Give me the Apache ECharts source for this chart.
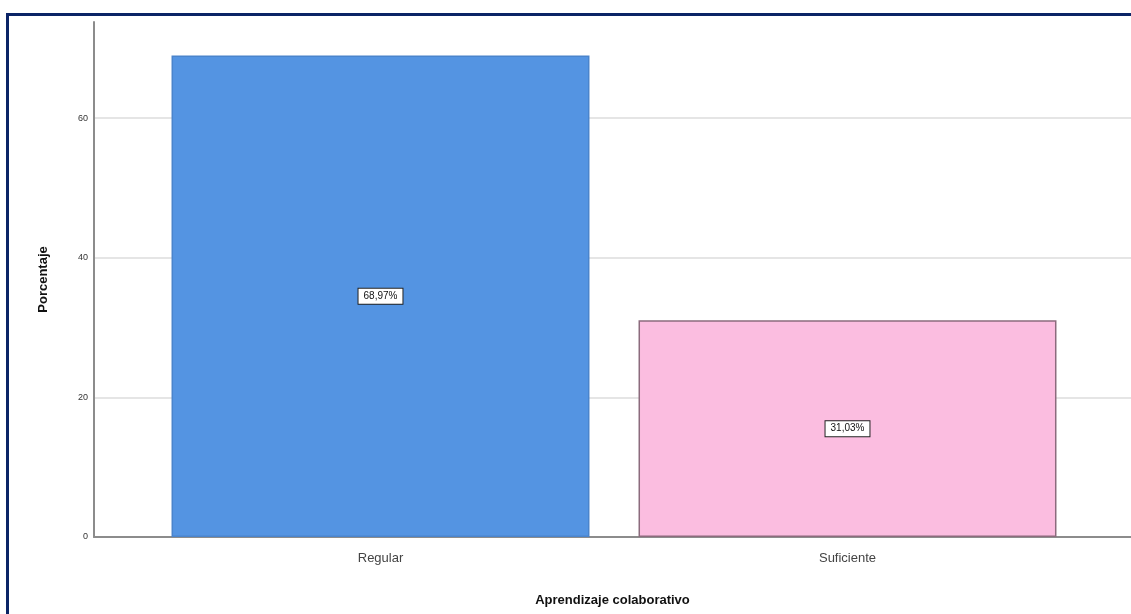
<!DOCTYPE html>
<html><head><meta charset="utf-8">
<script src="https://cdn.jsdelivr.net/npm/echarts@6/dist/echarts.min.js"></script>
<style>
html,body{margin:0;padding:0;background:#fff;}
#c{width:1131px;height:614px;position:relative;}
#frame{position:absolute;left:6px;top:13px;width:1140px;height:620px;border-left:3px solid #0b2466;border-top:3px solid #0b2466;box-sizing:border-box;pointer-events:none;}
</style></head>
<body>
<div id="c"></div>
<div id="frame"></div>
<script>
const categories = ['Regular', 'Suficiente'];
const percentages = [68.97, 31.03];
const valueLabels = ['68,97%', '31,03%'];
const barColors = ['#5494e2', '#fbbde0'];
const borderColors = ['#4a84cc', '#8c6b7d'];
const yTicks = [0, 20, 40, 60];

const chart = echarts.init(document.getElementById('c'), null, {renderer: 'canvas'});
const yMax = 73.75;
chart.setOption({
  animation: false,
  grid: [
    {left: 94, right: 0, top: 22, bottom: 77},
    {left: 147, right: 50, top: 22, bottom: 77}
  ],
  xAxis: [
    {gridIndex: 0, type: 'value', min: 0, max: 1, axisLabel: {show: false}, axisTick: {show: false}, splitLine: {show: false},
     axisLine: {show: true, lineStyle: {color: '#8c8c8c', width: 2}},
     name: 'Aprendizaje colaborativo', nameLocation: 'middle', nameGap: 57,
     nameTextStyle: {fontFamily: 'Liberation Sans, Arial', fontWeight: 'bold', fontSize: 13, color: '#111'}},
    {gridIndex: 1, type: 'category', data: categories, axisLine: {show: false}, axisTick: {show: false},
     axisLabel: {fontFamily: 'Liberation Sans, Arial', fontSize: 13, color: '#444', margin: 15}}
  ],
  yAxis: [
    {gridIndex: 0, type: 'value', min: 0, max: yMax, interval: 20,
     axisLine: {show: true, lineStyle: {color: '#8c8c8c', width: 2}}, axisTick: {show: false},
     axisLabel: {fontFamily: 'Liberation Sans, Arial', fontSize: 9, color: '#333', margin: 6,
       formatter: v => yTicks.includes(v) ? String(v) : ''},
     splitLine: {show: true, lineStyle: {color: ['rgba(0,0,0,0)', '#dcdcdc', '#dcdcdc', '#dcdcdc', 'rgba(0,0,0,0)'], width: 1.5}},
     name: 'Porcentaje', nameLocation: 'middle', nameGap: 44,
     nameTextStyle: {fontFamily: 'Liberation Sans, Arial', fontWeight: 'bold', fontSize: 13, color: '#111'}},
    {gridIndex: 1, type: 'value', min: 0, max: yMax, show: false}
  ],
  series: [{
    type: 'bar', xAxisIndex: 1, yAxisIndex: 1,
    barCategoryGap: '10.5%',
    data: percentages.map((v, i) => ({
      value: v,
      itemStyle: {color: barColors[i], borderColor: borderColors[i], borderWidth: 1.5},
      label: {formatter: valueLabels[i]}
    })),
    label: {show: true, position: 'inside', fontFamily: 'Liberation Sans, Arial', fontSize: 10, color: '#111',
      backgroundColor: '#fff', borderColor: '#222', borderWidth: 1, padding: [3, 5, 2, 5]}
  }]
});
</script>
</body></html>
